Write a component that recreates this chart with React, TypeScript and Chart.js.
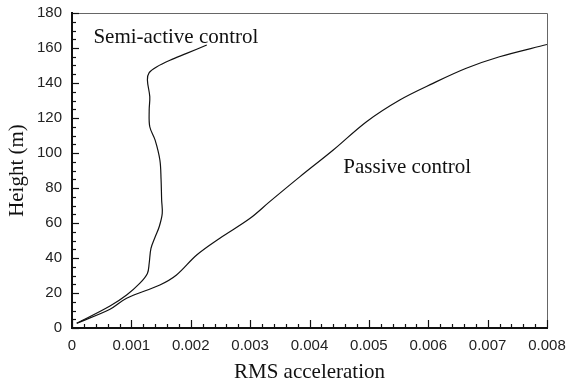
import React, { useEffect, useRef } from 'react';
import { Chart, registerables } from 'chart.js';

Chart.register(...registerables);

// Semi-active control curve (RMS acceleration vs height)
const semiAccel = [0.00008, 0.00064, 0.00092, 0.00114, 0.00127, 0.0013, 0.00133, 0.0014, 0.00147, 0.00152, 0.00151, 0.0015, 0.00148, 0.0014, 0.00131, 0.0013, 0.00131, 0.00127, 0.0013, 0.00143, 0.00165, 0.00193, 0.00227];
const semiHeight = [2.7, 12.6, 18.9, 25.5, 31.2, 37, 45.5, 52, 58, 65.5, 73, 85, 96, 107.4, 115, 124.6, 132.2, 141.7, 145.9, 149.3, 153, 156.9, 161.7];

// Passive control curve
const passiveAccel = [0.00008, 0.00064, 0.00092, 0.00148, 0.00176, 0.0021, 0.00249, 0.003, 0.00333, 0.00384, 0.0044, 0.00496, 0.00552, 0.00608, 0.00664, 0.0072, 0.008];
const passiveHeight = [2.7, 10.7, 17, 24.6, 30.3, 41.7, 51.3, 62.7, 72.2, 86.5, 101.7, 117.9, 130.3, 139.8, 148.4, 155, 162];

// Axis ticks
const xTicks = [0, 0.001, 0.002, 0.003, 0.004, 0.005, 0.006, 0.007, 0.008];
const xTickLabels = ['0', '0.001', '0.002', '0.003', '0.004', '0.005', '0.006', '0.007', '0.008'];
const yTicks = [0, 20, 40, 60, 80, 100, 120, 140, 160, 180];
const yTickLabels = ['0', '20', '40', '60', '80', '100', '120', '140', '160', '180'];

// Curve labels (anchored at data coordinates: left edge / baseline)
const curveLabels = ['Semi-active control', 'Passive control'];
const curveLabelAccel = [0.00036, 0.00457];
const curveLabelHeight = [162.7, 88.4];

const SERIF = '"Liberation Serif", "Times New Roman", serif';
const SANS = '"Liberation Sans", Arial, sans-serif';

const framePlugin = {
  id: 'frame',
  afterDatasetsDraw(chart: any) {
    const { ctx, chartArea: a, scales } = chart;
    const x = scales.x;
    const y = scales.y;
    ctx.save();
    // thin top & right frame
    ctx.strokeStyle = '#666';
    ctx.lineWidth = 1;
    ctx.beginPath();
    ctx.moveTo(a.left, Math.round(a.top) + 0.5);
    ctx.lineTo(Math.round(a.right) + 0.5, Math.round(a.top) + 0.5);
    ctx.lineTo(Math.round(a.right) + 0.5, a.bottom);
    ctx.stroke();

    // inward ticks on the y axis
    ctx.strokeStyle = '#111';
    ctx.lineWidth = 1.2;
    const yMax = y.max;
    for (let k = 0; k * 5 <= yMax + 1e-9; k++) {
      const v = k * 5;
      const py = Math.round(y.getPixelForValue(v)) + 0.5;
      const len = k % 4 === 0 ? 7 : 4;
      ctx.beginPath();
      ctx.moveTo(a.left, py);
      ctx.lineTo(a.left + len, py);
      ctx.stroke();
    }
    // inward ticks on the x axis
    const xMax = x.max;
    for (let k = 0; k * 0.0002 <= xMax + 1e-12; k++) {
      const v = k * 0.0002;
      const px = Math.round(x.getPixelForValue(v)) + 0.5;
      const len = k % 5 === 0 ? 8 : 4;
      ctx.beginPath();
      ctx.moveTo(px, a.bottom);
      ctx.lineTo(px, a.bottom - len);
      ctx.stroke();
    }

    // curve labels
    ctx.font = `21px ${SERIF}`;
    ctx.fillStyle = '#111';
    ctx.textAlign = 'left';
    ctx.textBaseline = 'alphabetic';
    curveLabels.forEach((t, i) => {
      ctx.fillText(t, x.getPixelForValue(curveLabelAccel[i]), y.getPixelForValue(curveLabelHeight[i]));
    });
    ctx.restore();
  },
};

export default function App() {
  const ref = useRef<HTMLCanvasElement | null>(null);

  useEffect(() => {
    if (!ref.current) return;
    const mk = (xs: number[], ys: number[]) => xs.map((v, i) => ({ x: v, y: ys[i] }));
    const chart = new Chart(ref.current, {
      type: 'line',
      data: {
        datasets: [
          {
            label: 'Semi-active control',
            data: mk(semiAccel, semiHeight),
            borderColor: '#111',
            borderWidth: 1.2,
            pointRadius: 0,
            tension: 0.35,
            fill: false,
          },
          {
            label: 'Passive control',
            data: mk(passiveAccel, passiveHeight),
            borderColor: '#111',
            borderWidth: 1.2,
            pointRadius: 0,
            tension: 0.35,
            fill: false,
          },
        ],
      },
      options: {
        animation: false,
        responsive: false,
        devicePixelRatio: 1,
        layout: { padding: { left: 0, right: 19, top: 13, bottom: 0 } },
        plugins: { legend: { display: false }, tooltip: { enabled: false } },
        scales: {
          x: {
            type: 'linear',
            min: 0,
            max: 0.008,
            afterBuildTicks: (s: any) => {
              s.ticks = xTicks.map((v) => ({ value: v }));
            },
            afterFit: (s: any) => {
              s.height = 60;
              s.paddingLeft = 0;
              s.paddingRight = 0;
            },
            ticks: {
              callback: (_v: any, i: number) => xTickLabels[i],
              padding: 9,
              maxRotation: 0,
              autoSkip: false,
              color: '#222',
              font: { family: SANS, size: 15 },
            },
            grid: { display: false, drawTicks: false },
            border: { display: true, width: 2, color: '#111' },
            title: {
              display: true,
              text: 'RMS acceleration',
              color: '#111',
              font: { family: SERIF, size: 21 },
              padding: { top: 0, bottom: 3 },
            },
          },
          y: {
            type: 'linear',
            min: 0,
            max: 180,
            afterBuildTicks: (s: any) => {
              s.ticks = yTicks.map((v) => ({ value: v }));
            },
            afterFit: (s: any) => {
              s.width = 72;
              s.paddingTop = 0;
              s.paddingBottom = 0;
            },
            ticks: {
              callback: (_v: any, i: number) => yTickLabels[i],
              padding: 10,
              autoSkip: false,
              color: '#222',
              font: { family: SANS, size: 15 },
            },
            grid: { display: false, drawTicks: false },
            border: { display: true, width: 2, color: '#111' },
            title: {
              display: true,
              text: 'Height (m)',
              color: '#111',
              font: { family: SERIF, size: 21 },
              padding: { top: 5, bottom: 5 },
            },
          },
        },
      },
      plugins: [framePlugin],
    } as any);
    return () => chart.destroy();
  }, []);

  return (
    <div style={{ position: 'fixed', left: 0, top: 0, width: 566, height: 388, background: '#fff' }}>
      <canvas ref={ref} width={566} height={388} style={{ display: 'block', width: 566, height: 388 }} />
    </div>
  );
}
